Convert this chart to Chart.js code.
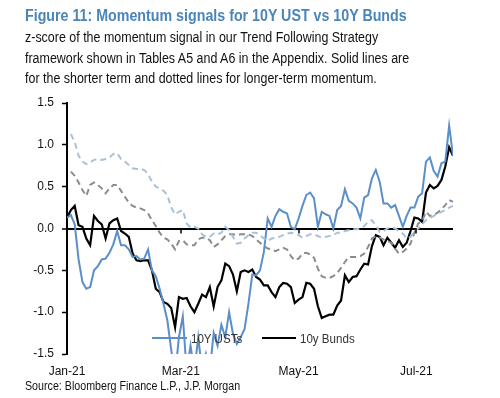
<!DOCTYPE html>
<html>
<head>
<meta charset="utf-8">
<script src="https://cdn.jsdelivr.net/npm/chart.js@4.4.1/dist/chart.umd.min.js"></script>
<style>
  html, body { margin: 0; padding: 0; background: #fff; }
  body { width: 500px; height: 398px; position: relative; overflow: hidden; font-family: "Liberation Sans", Arial, sans-serif; }
  #chart { position: absolute; left: 0; top: 0; }
  .txt { position: absolute; left: 25px; white-space: nowrap; transform: scaleX(0.89); transform-origin: 0 0; }
  #title { top: 8px; font-size: 16px; line-height: 16px; font-weight: bold; color: #4a85b8; }
  #sub { top: 27px; font-size: 14px; line-height: 20.5px; color: #111; }
  #source { top: 380px; font-size: 12px; line-height: 12px; color: #111; }
  .leg { position: absolute; top: 332px; font-size: 13px; line-height: 13px; color: #333; white-space: nowrap; transform: scaleX(0.89); transform-origin: 0 0; }
  .legline { position: absolute; top: 337px; height: 2px; }
</style>
</head>
<body>
<canvas id="chart" width="500" height="398"></canvas>
<div class="txt" id="title">Figure 11: Momentum signals for 10Y UST vs 10Y Bunds</div>
<div class="txt" id="sub">z-score of the momentum signal in our Trend Following Strategy<br>framework shown in Tables A5 and A6 in the Appendix. Solid lines are<br>for the shorter term and dotted lines for longer-term momentum.</div>
<div class="txt" id="source">Source: Bloomberg Finance L.P., J.P. Morgan</div>
<div class="legline" style="left:152px;width:35px;background:#5b8fc9"></div>
<div class="leg" style="left:191px">10Y USTs</div>
<div class="legline" style="left:262px;width:34px;background:#000"></div>
<div class="leg" style="left:300px">10y Bunds</div>
<script>
// days since 1 Jan 2021, one observation every 2 days
const days = [0, 2, 4, 6, 8, 10, 12, 14, 16, 18, 20, 22, 24, 26, 28, 30, 32, 34, 36, 38,
  40, 42, 44, 46, 48, 50, 52, 54, 56, 58, 60, 62, 64, 66, 68, 70, 72, 74, 76, 78,
  80, 82, 84, 86, 88, 90, 92, 94, 96, 98, 100, 102, 104, 106, 108, 110, 112, 114, 116, 118,
  120, 122, 124, 126, 128, 130, 132, 134, 136, 138, 140, 142, 144, 146, 148, 150, 152, 154, 156, 158,
  160, 162, 164, 166, 168, 170, 172, 174, 176, 178, 180, 182, 184, 186, 188, 190, 192, 194, 196, 198, 200];

const tickDays = [0, 59, 120, 181];
const tickLabels = ['Jan-21', 'Mar-21', 'May-21', 'Jul-21'];
const yTicks = [-1.5, -1.0, -0.5, 0, 0.5, 1.0, 1.5];

// short term momentum
const ustShort = [0.13, 0.16, 0.05, -0.37, -0.64, -0.72, -0.70, -0.50, -0.45, -0.37,
  -0.36, -0.29, -0.19, -0.03, -0.20, -0.20, -0.25, -0.34, -0.33, -0.37,
  -0.36, -0.25, -0.50, -0.57, -0.72, -0.90, -1.10, -1.45, -1.75, -1.30,
  -1.05, -1.70, -1.40, -1.70, -1.30, -1.70, -1.50, -1.70, -1.25, -1.40,
  -1.15, -1.30, -1.00, -1.26, -1.38, -1.30, -1.20, -0.90, -0.55, -0.56,
  -0.50, -0.28, 0.12, 0.02, 0.15, 0.23, 0.20, 0.18, 0.02, -0.01,
  0.12, 0.27, 0.40, 0.43, 0.36, 0.02, 0.20, 0.17, 0.15, 0.00,
  0.22, 0.27, 0.47, 0.33, 0.30, 0.25, 0.12, 0.37, 0.40, 0.60,
  0.70, 0.56, 0.30, 0.30, 0.25, 0.28, 0.15, 0.02, 0.15, 0.25,
  0.25, 0.38, 0.42, 0.80, 0.85, 0.69, 0.62, 0.78, 0.80, 1.23, 0.87];

const bundShort = [0.13, 0.22, 0.27, 0.04, 0.02, -0.12, -0.20, 0.15, 0.09, 0.05,
  -0.12, 0.06, 0.10, 0.12, -0.03, -0.06, -0.10, -0.30, -0.38, -0.39,
  -0.38, -0.38, -0.50, -0.72, -0.76, -0.88, -0.90, -0.95, -1.18, -0.82,
  -0.84, -0.83, -0.93, -1.00, -0.90, -0.79, -0.82, -0.70, -0.93, -0.70,
  -0.62, -0.42, -0.45, -0.55, -0.75, -0.52, -0.50, -0.52, -0.49, -0.58,
  -0.61, -0.68, -0.68, -0.76, -0.82, -0.70, -0.65, -0.66, -0.70, -0.89,
  -0.85, -0.82, -0.65, -0.66, -0.72, -0.93, -1.07, -1.05, -1.03, -1.03,
  -0.92, -0.86, -0.56, -0.64, -0.58, -0.57, -0.49, -0.42, -0.43, -0.21,
  -0.08, -0.10, -0.20, -0.11, -0.17, -0.23, -0.14, -0.22, -0.17, -0.03,
  0.13, 0.12, 0.08, 0.43, 0.52, 0.48, 0.51, 0.58, 0.74, 0.97, 0.87];

// longer term momentum
const ustLong = [null, 1.13, 1.03, 0.87, 0.80, 0.77, 0.79, 0.82, 0.83, 0.82,
  0.83, 0.85, 0.89, 0.90, 0.83, 0.80, 0.76, 0.72, 0.71, 0.71,
  0.70, 0.65, 0.56, 0.50, 0.48, 0.45, 0.40, 0.25, 0.17, 0.20,
  0.22, 0.06, 0.01, 0.02, 0.00, -0.07, -0.10, -0.10, -0.06, -0.07,
  -0.05, 0.02, -0.02, -0.10, -0.18, -0.17, -0.12, -0.08, -0.05, -0.05,
  -0.08, -0.12, -0.15, -0.12, -0.11, -0.10, -0.08, -0.06, -0.05, -0.06,
  -0.08, -0.11, -0.09, -0.07, -0.07, -0.09, -0.11, -0.10, -0.09, -0.08,
  -0.05, -0.05, -0.03, -0.02, -0.01, -0.01, 0.00, 0.03, 0.08, 0.10,
  0.04, -0.04, -0.03, 0.00, 0.01, 0.00, -0.03, -0.06, -0.12, -0.10,
  -0.03, 0.00, 0.05, 0.10, 0.12, 0.15, 0.17, 0.20, 0.22, 0.25, 0.27];

const bundLong = [null, 0.68, 0.63, 0.55, 0.46, 0.39, 0.52, 0.55, 0.52, 0.48,
  0.42, 0.48, 0.52, 0.52, 0.45, 0.38, 0.31, 0.27, 0.25, 0.24,
  0.22, 0.18, 0.10, 0.03, -0.05, -0.11, -0.13, -0.18, -0.25, -0.15,
  -0.14, -0.19, -0.20, -0.20, -0.13, -0.11, -0.11, -0.14, -0.22, -0.19,
  -0.14, -0.09, -0.07, -0.07, -0.08, -0.07, -0.07, -0.07, -0.09, -0.13,
  -0.17, -0.21, -0.24, -0.25, -0.27, -0.25, -0.23, -0.25, -0.33, -0.38,
  -0.36, -0.30, -0.29, -0.31, -0.35, -0.48, -0.57, -0.59, -0.59, -0.57,
  -0.53, -0.47, -0.40, -0.34, -0.34, -0.34, -0.33, -0.30, -0.22, -0.12,
  -0.09, -0.11, -0.13, -0.15, -0.17, -0.24, -0.30, -0.28, -0.24, -0.18,
  -0.05, 0.06, 0.09, 0.20, 0.15, 0.16, 0.19, 0.23, 0.28, 0.34, 0.32];

function points(vals) {
  return days.map((d, i) => ({ x: d, y: vals[i] }));
}

const tickFont = { family: '"Liberation Sans", Arial, sans-serif', size: 12 };

// little tick marks on the zero line for the month labels
const zeroTicks = {
  id: 'zeroTicks',
  afterDatasetsDraw(chart) {
    const ctx = chart.ctx;
    const x = chart.scales.x, y = chart.scales.y;
    const y0 = y.getPixelForValue(0);
    ctx.save();
    ctx.strokeStyle = '#000';
    ctx.lineWidth = 1.5;
    tickDays.forEach(d => {
      if (d === 0) return;
      const px = Math.round(x.getPixelForValue(d));
      ctx.beginPath();
      ctx.moveTo(px, y0);
      ctx.lineTo(px, y0 + 5);
      ctx.stroke();
    });
    ctx.restore();
  }
};

new Chart(document.getElementById('chart'), {
  type: 'line',
  data: {
    datasets: [
      { label: '10Y USTs long', data: points(ustLong), borderColor: '#a9c2da', borderWidth: 2, borderDash: [6, 4] },
      { label: '10y Bunds long', data: points(bundLong), borderColor: '#8c8c8c', borderWidth: 2, borderDash: [6, 4] },
      { label: '10Y USTs', data: points(ustShort), borderColor: '#5b8fc9', borderWidth: 2 },
      { label: '10y Bunds', data: points(bundShort), borderColor: '#000', borderWidth: 2.2 }
    ]
  },
  options: {
    responsive: false,
    devicePixelRatio: 1,
    animation: false,
    layout: { padding: { left: 0, top: 103, right: 47, bottom: 0 } },
    elements: { point: { radius: 0 }, line: { tension: 0 } },
    datasets: { line: { clip: 0, spanGaps: false } },
    plugins: { legend: { display: false }, tooltip: { enabled: false } },
    scales: {
      x: {
        type: 'linear',
        min: 0,
        max: 200,
        grid: { display: false },
        border: { display: false },
        afterBuildTicks: s => { s.ticks = tickDays.map(v => ({ value: v })); },
        afterFit: s => { s.height = 44; },
        ticks: {
          font: tickFont,
          color: '#111',
          padding: 2,
          maxRotation: 0,
          autoSkip: false,
          callback: v => tickLabels[tickDays.indexOf(v)]
        }
      },
      y: {
        min: -1.5,
        max: 1.5,
        afterBuildTicks: s => { s.ticks = yTicks.map(v => ({ value: v })); },
        afterFit: s => { s.width = 67; },
        border: { display: true, color: '#000', width: 2 },
        grid: {
          drawOnChartArea: true,
          color: c => (c.tick && c.tick.value === 0 ? '#000' : 'rgba(0,0,0,0)'),
          lineWidth: c => (c.tick && c.tick.value === 0 ? 2 : 1),
          tickColor: '#000',
          tickLength: 5,
          tickWidth: 1.5
        },
        ticks: {
          font: tickFont,
          color: '#111',
          padding: 8,
          callback: v => v.toFixed(1)
        }
      }
    }
  },
  plugins: [zeroTicks]
});
</script>
</body>
</html>
